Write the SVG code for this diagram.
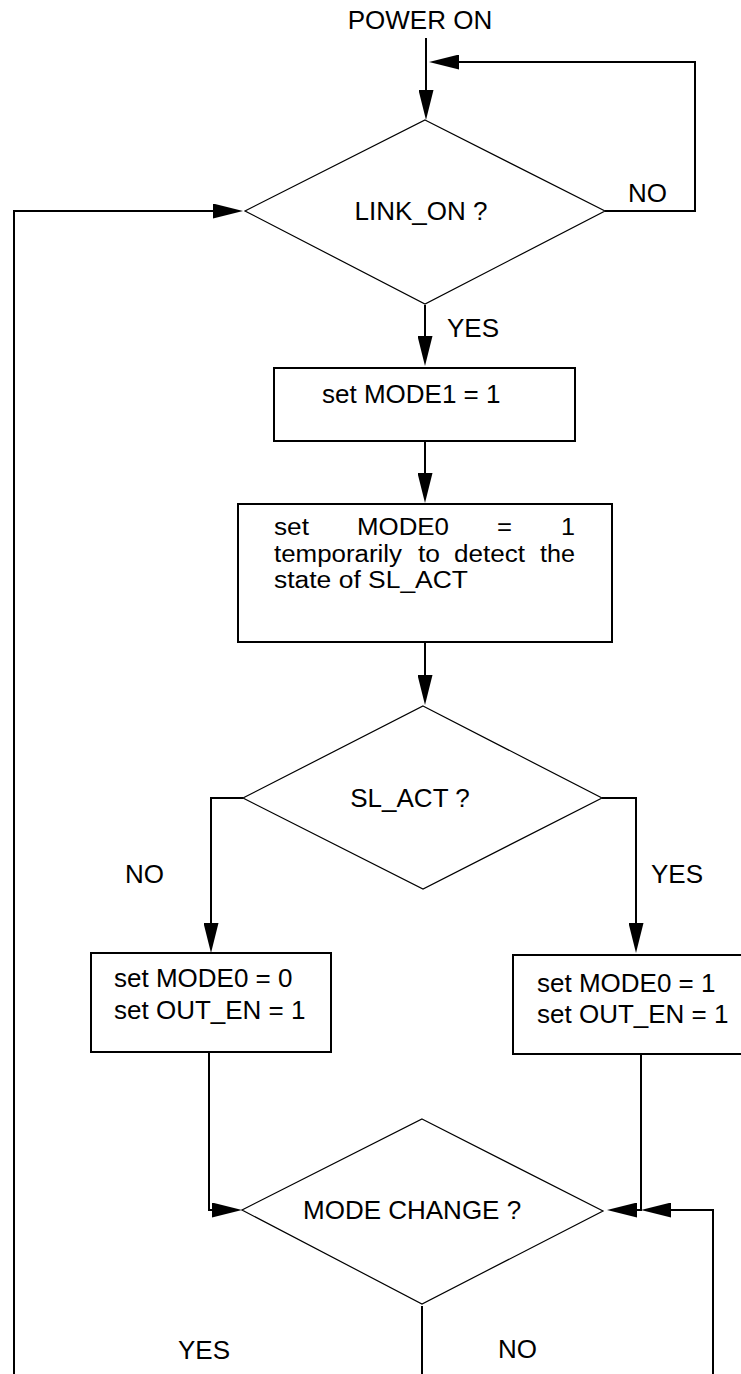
<svg xmlns="http://www.w3.org/2000/svg" width="741" height="1374" viewBox="0 0 741 1374">
<style>
text{font-family:"Liberation Sans",Arial,sans-serif;font-size:26px;fill:#000}
text.tight{font-size:23px}
.box{fill:#fff;stroke:#000;stroke-width:2}
.dia{fill:#fff;stroke:#000;stroke-width:1.2}
.con{fill:none;stroke:#000;stroke-width:2;marker-end:url(#ah)}
.plain{fill:none;stroke:#000;stroke-width:2}
</style>
<defs>
<marker id="ah" markerUnits="userSpaceOnUse" markerWidth="30" markerHeight="15" viewBox="0 0 30 15" refX="0" refY="7.5" orient="auto">
<path d="M0,0 L30,7.5 L0,15 Z" fill="#000"/>
</marker>
</defs>
<rect width="741" height="1374" fill="#fff"/>
<g id="connectors">
<path class="con" d="M426,38 V90"/>
<path class="con" d="M605,211 H695 V62 H459"/>
<path class="con" d="M425,305 V336"/>
<path class="con" d="M425,441 V473"/>
<path class="con" d="M425,642 V675"/>
<path class="con" d="M243,798 H211 V923"/>
<path class="con" d="M602,798 H636 V923"/>
<path class="con" d="M209,1052 V1210 H212"/>
<path class="con" d="M641,1054 V1210 H637"/>
<path class="con" d="M713,1374 V1210 H671"/>
<path class="plain" d="M422,1306 V1374"/>
<path class="con" d="M14,1374 V211 H213"/>
</g>
<g id="power_on"><text x="420" y="29" text-anchor="middle">POWER ON</text></g>
<g id="link_on">
<polygon class="dia" points="425,120 605,211 425,304 245,211"/>
<text x="421" y="220" text-anchor="middle">LINK_ON ?</text>
</g>
<g id="labels">
<text x="628" y="202">NO</text>
<text x="447" y="337">YES</text>
<text x="125" y="883">NO</text>
<text x="651" y="883">YES</text>
<text x="178" y="1359">YES</text>
<text x="498" y="1358">NO</text>
</g>
<g id="set_mode1">
<rect class="box" x="274" y="368" width="301" height="73"/>
<text x="322" y="403">set MODE1 = 1</text>
</g>
<g id="set_mode0_temp">
<rect class="box" x="238" y="504" width="374" height="138"/>
<text class="tight" x="274" y="535" textLength="35" lengthAdjust="spacingAndGlyphs">set</text>
<text class="tight" x="357" y="535" textLength="92" lengthAdjust="spacingAndGlyphs">MODE0</text>
<text class="tight" x="497" y="535" textLength="15" lengthAdjust="spacingAndGlyphs">=</text>
<text class="tight" x="561" y="535" textLength="14" lengthAdjust="spacingAndGlyphs">1</text>
<text class="tight" x="274" y="561.5" textLength="128" lengthAdjust="spacingAndGlyphs">temporarily</text>
<text class="tight" x="418" y="561.5" textLength="22" lengthAdjust="spacingAndGlyphs">to</text>
<text class="tight" x="454" y="561.5" textLength="71" lengthAdjust="spacingAndGlyphs">detect</text>
<text class="tight" x="540" y="561.5" textLength="35" lengthAdjust="spacingAndGlyphs">the</text>
<text class="tight" x="274" y="588" textLength="194" lengthAdjust="spacingAndGlyphs">state of SL_ACT</text>
</g>
<g id="sl_act">
<polygon class="dia" points="423,706 602,798 423,889 243,798"/>
<text x="410" y="807" text-anchor="middle">SL_ACT ?</text>
</g>
<g id="set_mode0_0">
<rect class="box" x="91" y="953" width="240" height="99"/>
<text><tspan x="114" y="987">set MODE0 = 0</tspan><tspan x="114" y="1019">set OUT_EN = 1</tspan></text>
</g>
<g id="set_mode0_1">
<rect class="box" x="513" y="955" width="230" height="99"/>
<text><tspan x="537" y="992">set MODE0 = 1</tspan><tspan x="537" y="1023">set OUT_EN = 1</tspan></text>
</g>
<g id="mode_change">
<polygon class="dia" points="422,1119 603,1211 422,1304 242,1210"/>
<text x="303" y="1219">MODE CHANGE ?</text>
</g>
</svg>
